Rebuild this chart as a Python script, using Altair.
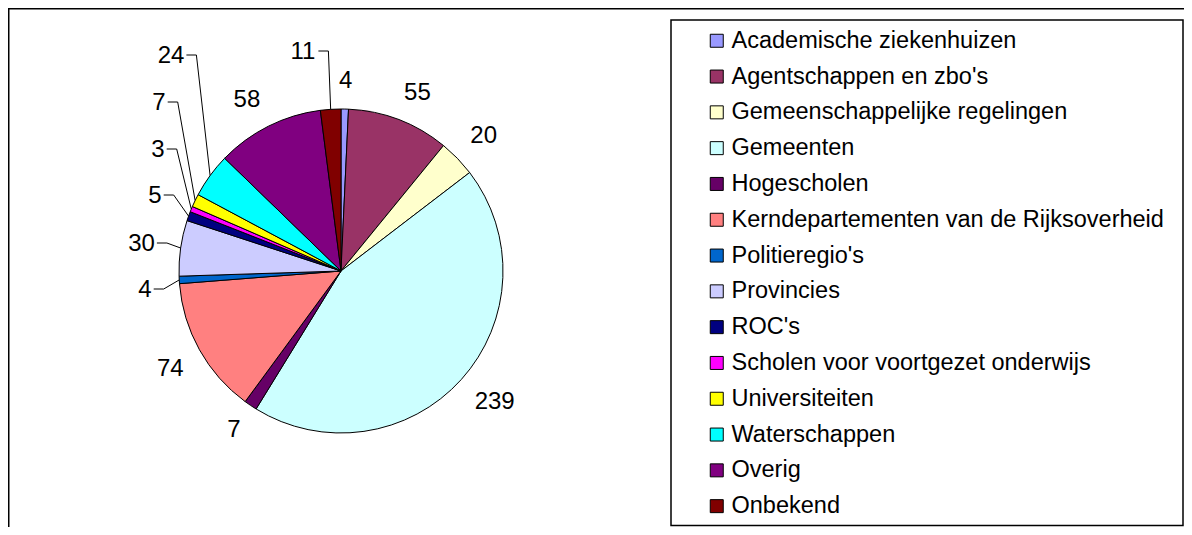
import altair as alt
import pandas as pd

# ---- data ----
categories = [
    "Academische ziekenhuizen",
    "Agentschappen en zbo's",
    "Gemeenschappelijke regelingen",
    "Gemeenten",
    "Hogescholen",
    "Kerndepartementen van de Rijksoverheid",
    "Politieregio's",
    "Provincies",
    "ROC's",
    "Scholen voor voortgezet onderwijs",
    "Universiteiten",
    "Waterschappen",
    "Overig",
    "Onbekend",
]
values = [4, 55, 20, 239, 7, 74, 4, 30, 5, 3, 7, 24, 58, 11]

# ---- styling ----
colors = ["#9999FF", "#993366", "#FFFFCC", "#CCFFFF", "#660066", "#FF8080", "#0066CC",
          "#CCCCFF", "#000080", "#FF00FF", "#FFFF00", "#00FFFF", "#800080", "#800000"]

# label placement (offset from pie centre) for the labels that were dragged out with leader lines
leader_dx = [None, None, None, None, None, None, -196, -199.5, -186, -183, -182, -170, None, -38]
leader_dy = [None, None, None, None, None, None, 19, -27, -75, -121, -168, -215, None, -219]

CX, CY, R = 333, 263, 162
FONT = "Liberation Sans"
W, H = 1176, 519

df = pd.DataFrame({"cat": categories, "value": values, "idx": list(range(len(values))),
                   "ldx": leader_dx, "ldy": leader_dy})

base = (
    alt.Chart(df)
    .transform_window(cum="sum(value)", sort=[alt.SortField("idx")], frame=[None, 0])
    .transform_joinaggregate(total="sum(value)")
    .transform_calculate(mid="2*PI*(datum.cum - datum.value/2)/datum.total")
    .transform_calculate(s="sin(datum.mid)", c="cos(datum.mid)",
                         hw="6.7*length(toString(datum.value))")
    .transform_calculate(
        ex=f"{CX} + {R}*datum.s",
        ey=f"{CY} - {R}*datum.c",
        lx=f"isValid(datum.ldx) ? {CX} + datum.ldx : {CX} + 180*datum.s + datum.hw*clamp(2.5*datum.s,-1,1)",
        ly=f"isValid(datum.ldy) ? {CY} + datum.ldy : {CY} - 180*datum.c - 10*clamp(2.5*datum.c,-1,1)",
    )
    .transform_calculate(
        h1="datum.lx + datum.hw + 2",
        h2="datum.lx + datum.hw + 12",
        hy="datum.ly - 1",
    )
)

one = alt.Chart(pd.DataFrame({"a": [0]}))

# outer chart border (only top and left edges fall inside the picture)
top_edge = one.mark_rule(color="black", strokeWidth=1.5).encode(
    x=alt.value(0), x2=alt.value(W), y=alt.value(0.75))
left_edge = one.mark_rule(color="black", strokeWidth=1.5).encode(
    x=alt.value(0.75), y=alt.value(0), y2=alt.value(H))

# legend box
frame = one.mark_rect(fill="white", stroke="black", strokeWidth=1.5).encode(
    x=alt.value(663), x2=alt.value(1175), y=alt.value(12), y2=alt.value(517.5))

arcs = alt.Chart(df).mark_arc(radius=R, stroke="black", strokeWidth=1).encode(
    theta=alt.Theta("value:Q", stack=True),
    order=alt.Order("idx:Q"),
    color=alt.Color(
        "cat:N",
        sort=categories,
        scale=alt.Scale(domain=categories, range=colors),
        legend=alt.Legend(
            title=None, orient="none", legendX=697, legendY=21, direction="vertical",
            symbolType="square", symbolSize=169, symbolStrokeColor="black",
            symbolStrokeWidth=1, labelFont=FONT, labelFontSize=23.5, labelColor="black",
            labelLimit=600, labelOffset=3, rowPadding=10.8, padding=0,
        ),
    ),
    x=alt.value(CX),
    y=alt.value(CY),
)

leaders = base.transform_filter("isValid(datum.ldx)")
hrule = leaders.mark_rule(color="black", strokeWidth=1).encode(
    x=alt.X("h1:Q", scale=None, axis=None), x2="h2:Q", y=alt.Y("hy:Q", scale=None, axis=None)
)
drule = leaders.mark_rule(color="black", strokeWidth=1).encode(
    x=alt.X("h2:Q", scale=None, axis=None), x2="ex:Q",
    y=alt.Y("hy:Q", scale=None, axis=None), y2="ey:Q",
)

labels = base.mark_text(font=FONT, fontSize=24, align="center", baseline="middle",
                        color="black").encode(
    x=alt.X("lx:Q", scale=None, axis=None),
    y=alt.Y("ly:Q", scale=None, axis=None),
    text="value:Q",
)

chart = (
    alt.layer(top_edge, left_edge, frame, arcs, hrule, drule, labels)
    .properties(width=W, height=H, autosize=alt.AutoSizeParams(type="none"), padding=0)
    .configure_view(stroke=None)
)

chart.save("out.html", embed_options={"renderer": "svg", "actions": False})
